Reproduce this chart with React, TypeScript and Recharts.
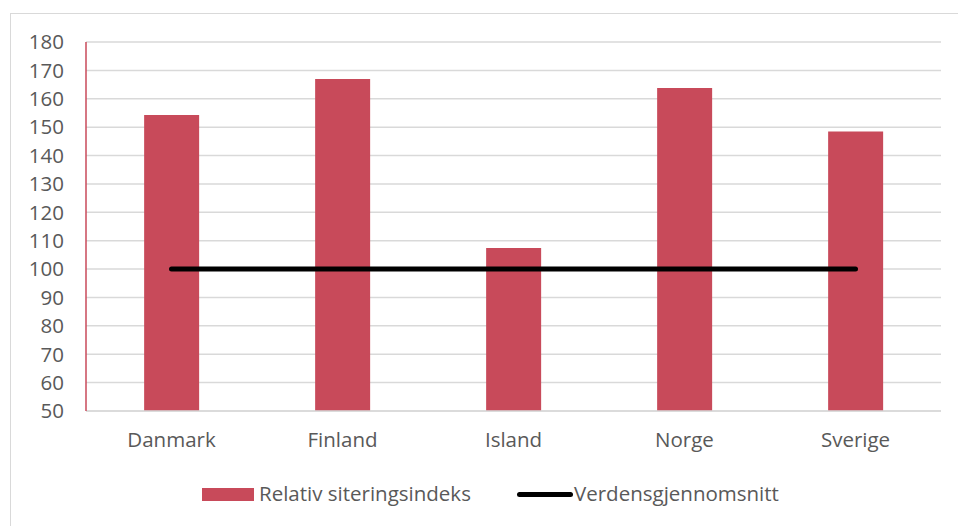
import React from "react";
import { ComposedChart, Bar, Line, XAxis, YAxis, CartesianGrid } from "recharts";

const countries = ["Danmark", "Finland", "Island", "Norge", "Sverige"];
const relativIndeks = [154.3, 167.0, 107.4, 163.8, 148.5];
const verdensSnitt = [100, 100, 100, 100, 100];
const yTicks = [50, 60, 70, 80, 90, 100, 110, 120, 130, 140, 150, 160, 170, 180];

const barName = "Relativ siteringsindeks";
const lineName = "Verdensgjennomsnitt";

const data = countries.map((c, i) => ({
  name: c,
  rel: relativIndeks[i],
  avg: verdensSnitt[i],
}));

const BAR_COLOR = "#C84A5A";
const FONT = "'Open Sans', sans-serif";
const FS = 20.5;

const LegendBlock = () => (
  <div style={{ position: "absolute", left: 0, top: 479, width: 958, height: 30, fontFamily: FONT, fontSize: FS, color: "#595959", lineHeight: "28px" }}>
    <div style={{ position: "absolute", left: 202, top: 9, width: 52, height: 13, background: BAR_COLOR }} />
    <div style={{ position: "absolute", left: 259, top: 0, whiteSpace: "nowrap" }}>{barName}</div>
    <div style={{ position: "absolute", left: 517, top: 13, width: 56, height: 5, borderRadius: 3, background: "#000" }} />
    <div style={{ position: "absolute", left: 574, top: 0, whiteSpace: "nowrap" }}>{lineName}</div>
  </div>
);

export default function App() {
  return (
    <div style={{ position: "absolute", left: 0, top: 0, width: 958, height: 526, overflow: "hidden", background: "#fff" }}>
      <div style={{ position: "absolute", left: 10, top: 13, width: 960, height: 540, border: "1.5px solid #d9d9d9" }} />
      <ComposedChart
        width={958}
        height={526}
        data={data}
        margin={{ top: 42, right: 17, left: 0, bottom: 75 }}
        barCategoryGap="34%"
        style={{ position: "absolute", left: 0, top: 0 }}
      >
        <CartesianGrid vertical={false} stroke="#d9d9d9" strokeWidth={1.5} />
        <XAxis
          dataKey="name"
          height={40}
          axisLine={{ stroke: "#d9d9d9", strokeWidth: 1.5 }}
          tickLine={false}
          tickSize={0}
          tickMargin={21}
          tick={{ fill: "#595959", fontSize: FS, fontFamily: FONT }}
        />
        <YAxis
          width={86}
          domain={[50, 180]}
          ticks={yTicks}
          interval={0}
          allowDataOverflow
          axisLine={{ stroke: BAR_COLOR, strokeWidth: 1.5 }}
          tickLine={false}
          tickSize={0}
          tickMargin={22}
          tick={{ fill: "#595959", fontSize: FS, fontFamily: FONT }}
        />
        <Bar dataKey="rel" name={barName} fill={BAR_COLOR} isAnimationActive={false} />
        <Line
          dataKey="avg"
          name={lineName}
          stroke="#000"
          strokeWidth={5}
          strokeLinecap="round"
          dot={false}
          activeDot={false}
          type="linear"
          isAnimationActive={false}
        />
      </ComposedChart>
      <LegendBlock />
    </div>
  );
}
